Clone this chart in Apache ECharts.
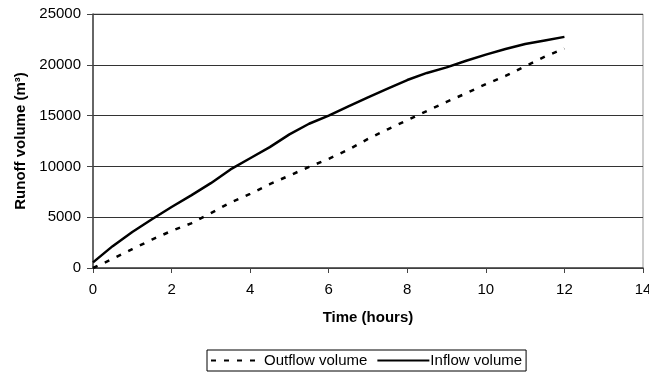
<!DOCTYPE html>
<html>
<head>
<meta charset="utf-8">
<script src="https://cdn.jsdelivr.net/npm/echarts@6/dist/echarts.min.js"></script>
<style>
html,body{margin:0;padding:0;background:#fff;}
#chart{width:649px;height:376px;}
</style>
</head>
<body>
<div id="chart"></div>
<script>
var timeHours = [0,0.5,1,1.5,2,2.5,3,3.5,4,4.5,5,5.5,6,6.5,7,7.5,8,8.5,9,9.5,10,10.5,11,11.5,12];
var outflowVolume = [0,900,1850,2800,3650,4400,5400,6450,7300,8250,9100,9950,10750,11650,12700,13650,14550,15450,16350,17200,18100,18900,19850,20800,21600];
var inflowVolume = [550,2150,3550,4800,6000,7150,8350,9700,10800,11900,13150,14200,15000,15900,16800,17650,18500,19200,19750,20400,21000,21550,22050,22400,22750];
var xTicks = [0,2,4,6,8,10,12,14];
var yTicks = [0,5000,10000,15000,20000,25000];

function pairs(xs, ys){ return xs.map(function(x,i){ return [x, ys[i]]; }); }

var font = 'Liberation Sans, Arial, sans-serif';
var chart = echarts.init(document.getElementById('chart'), null, {renderer:'canvas'});
chart.setOption({
  animation: false,
  backgroundColor: '#fff',
  grid: {left: 93, right: 6, top: 14, bottom: 108, show: true, borderColor: '#999', borderWidth: 1,
    containLabel: false, outerBoundsMode: 'none'},
  xAxis: {
    type: 'value', min: xTicks[0], max: xTicks[xTicks.length-1], interval: 2,
    name: 'Time (hours)', nameLocation: 'middle', nameGap: 42,
    nameTextStyle: {fontFamily: font, fontWeight: 'bold', fontSize: 15, color: '#000'},
    axisLine: {show: true, lineStyle: {color: '#444', width: 1.5}},
    axisTick: {show: true, inside: false, length: 5, lineStyle: {color: '#444'}},
    axisLabel: {fontFamily: font, fontSize: 15, color: '#000', margin: 14,
      formatter: function(v){ return String(v); }},
    splitLine: {show: false}
  },
  yAxis: {
    type: 'value', min: yTicks[0], max: yTicks[yTicks.length-1], interval: 5000,
    name: 'Runoff volume (m³)', nameLocation: 'middle', nameGap: 63, nameRotate: 90,
    nameTextStyle: {fontFamily: font, fontWeight: 'bold', fontSize: 15, color: '#000'},
    axisLine: {show: true, lineStyle: {color: '#444', width: 1.5}},
    axisTick: {show: true, inside: false, length: 6, lineStyle: {color: '#444'}},
    axisLabel: {fontFamily: font, fontSize: 15, color: '#000', margin: 12,
      formatter: function(v){ return String(v); }},
    splitLine: {show: true, lineStyle: {color: '#333', width: 1}}
  },
  legend: {
    left: 207, top: 350, orient: 'horizontal',
    itemWidth: 52, itemHeight: 12, itemGap: 9,
    padding: [3, 4, 3, 3],
    borderColor: '#000', borderWidth: 1,
    itemStyle: {opacity: 0},
    textStyle: {fontFamily: font, fontSize: 15, color: '#000', padding: [0,0,0,-4]},
    data: ['Outflow volume', 'Inflow volume']
  },
  series: [
    {
      name: 'Outflow volume', type: 'line', data: pairs(timeHours, outflowVolume),
      symbol: 'none', smooth: false,
      lineStyle: {color: '#000', width: 2.5, type: [5, 8]},
      itemStyle: {color: '#000'}
    },
    {
      name: 'Inflow volume', type: 'line', data: pairs(timeHours, inflowVolume),
      symbol: 'none', smooth: false,
      lineStyle: {color: '#000', width: 2.5, type: 'solid'},
      itemStyle: {color: '#000'}
    }
  ]
});
</script>
</body>
</html>
